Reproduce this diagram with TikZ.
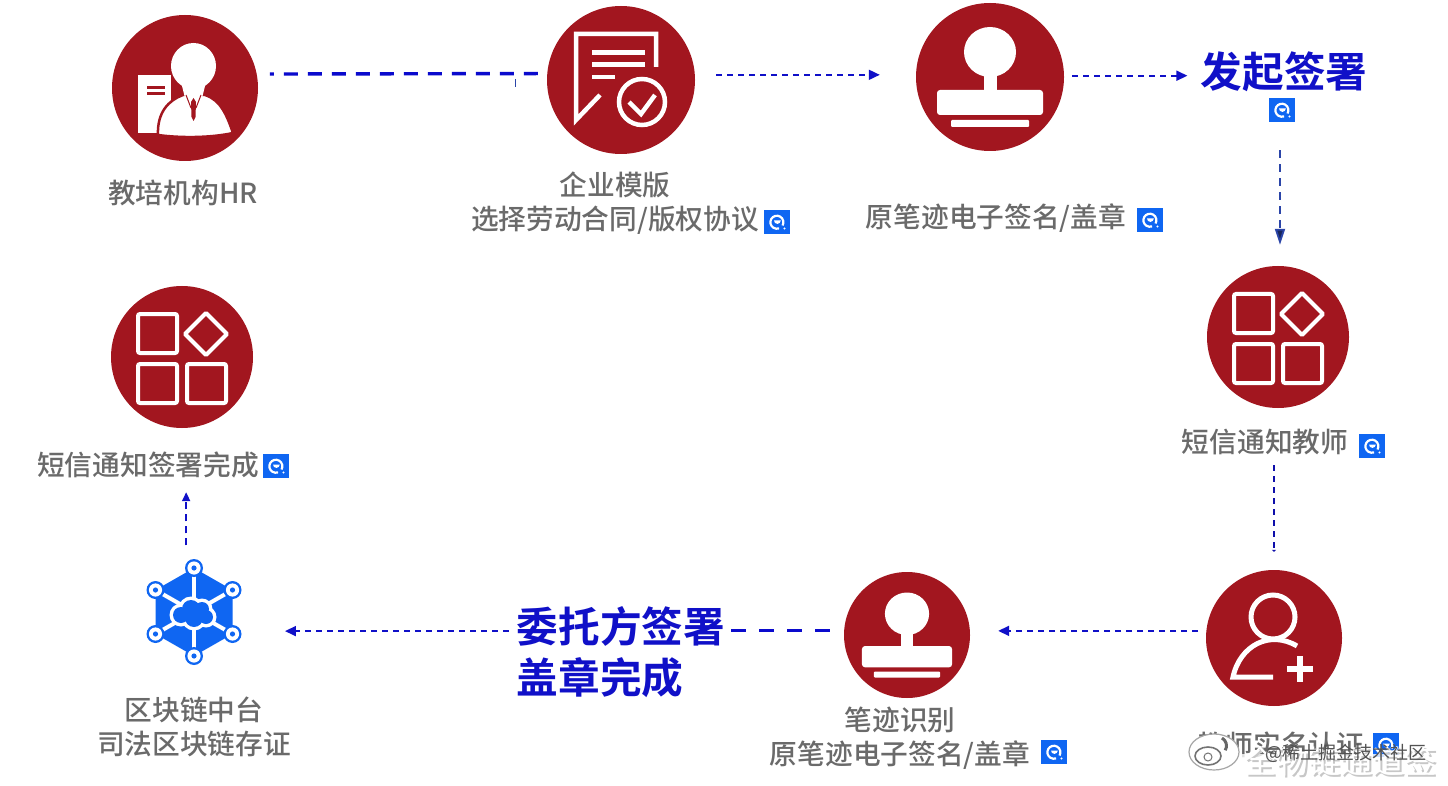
\documentclass[tikz,border=0pt]{standalone}
\usepackage{fontspec}
\setmainfont{Noto Sans CJK SC}
\newfontfamily\lblfont{Noto Sans CJK SC Medium}
\newfontfamily\ttlfont{Noto Sans CJK SC Bold}
\newfontfamily\wmfont{Noto Sans CJK SC}
\usetikzlibrary{arrows.meta,calc}
\definecolor{seal}{HTML}{A2161F}
\definecolor{lbl}{HTML}{6A6A6A}
\definecolor{ttl}{HTML}{1010C8}
\definecolor{azure}{HTML}{0F66F2}
\definecolor{navy}{HTML}{2B45A8}
\definecolor{thick}{HTML}{0A0ACD}
\tikzset{
 disc/.style={circle,fill=seal,inner sep=0pt,minimum size=#1},
 lab/.style={text=lbl,inner sep=0pt,font=\lblfont\fontsize{27.7}{33.5}\selectfont,align=center},
 title/.style={text=ttl,inner sep=0pt,font=\ttlfont\fontsize{41.7}{51}\selectfont,align=left},
 badge/.style={fill=azure,inner sep=0pt,minimum width=26pt,minimum height=24pt},
 thin link/.style={draw=ttl,line width=1.7pt,dash pattern=on 6pt off 5pt,-{Triangle[length=11pt,width=10pt,fill=ttl]}},
 heavy link/.style={draw=thick,line width=3.4pt},
 ink/.style={white,line width=#1},
 ink/.default=4pt,
}
\newcommand\stampicon[3]{\begin{scope}[shift={(#1,#2)},scale=#3]
 \fill[white] (0,-25) ellipse (26 and 25);
 \fill[white] (-6.5,-5) rectangle (6.5,15);
 \fill[white,rounded corners=3pt] (-53,13) rectangle (53,38);
 \fill[white,rounded corners=1pt] (-39,43) rectangle (39,50);
\end{scope}}
\newcommand\appsicon[2]{\begin{scope}[shift={(#1,#2)}]
 \draw[ink,rounded corners=2pt] (-44,-43) rectangle (-5,-4);
 \draw[ink,rounded corners=2pt] (-44,7) rectangle (-5,46);
 \draw[ink,rounded corners=2pt] (5,7) rectangle (44,46);
 \draw[ink,rounded corners=1pt] (24,-44) -- (45,-23) -- (24,-2) -- (3,-23) -- cycle;
\end{scope}}
\newcommand\badgeicon[3]{\node[badge] (#1) at (#2,#3) {};
 \draw[white,line width=2.2pt] ($(#2,#3)+(5.5,3.5)$) arc[start angle=30,end angle=-290,radius=6.5];
 \fill[white] ($(#2,#3)+(-3,-1.5)$) arc[start angle=180,end angle=0,radius=3.4] -- cycle;
 \fill[white] (#2+7.5,#3+6.5) circle (1.1);}
\begin{document}
\begin{tikzpicture}[x=1pt,y=-1pt]
\useasboundingbox (0,0) rectangle (1448,786);
\fill[white] (0,0) rectangle (1448,786);
% discs
\node[disc=146pt] (hr) at (185,88) {};
\node[disc=148pt] (tpl) at (621,80) {};
\node[disc=148pt] (stampA) at (990,77) {};
\node[disc=142pt] (appsR) at (1278,337) {};
\node[disc=136pt] (person) at (1274,638) {};
\node[disc=126pt] (stampB) at (907,635) {};
\node[disc=142pt] (appsL) at (182,357) {};
\node[circle,inner sep=0pt,minimum size=90pt] (chain) at (194,612) {};
% HR icon
\begin{scope}[shift={(185,88)}]
 \fill[white] (-47,-13) rectangle (-14,45);
 \fill[seal] (-38,-2) rectangle (-20,1.5);
 \fill[seal] (-38,4) rectangle (-20,7.5);
 \draw[seal,line width=2.5pt,fill=white] (-27,47) .. controls (-28,24) and (-16,12) .. (-2,7) -- (20,7) .. controls (36,12) and (42,28) .. (48,45) .. controls (25,50) and (-5,50) .. (-27,47) -- cycle;
 \fill[white] (8.5,-22) ellipse (22.5 and 23);
 \fill[white] (-4,-6) -- (21,-6) -- (17,10) -- (0,10) -- cycle;
 \fill[seal] (6,14) -- (8.5,10) -- (11,14) -- (10.5,29) -- (8.5,33) -- (6.5,29) -- cycle;
 \draw[seal,line width=1pt] (1,7) -- (6,20);
 \draw[seal,line width=1pt] (16,7) -- (11,20);
\end{scope}
% template icon
\draw[ink=4.5pt] (600,95) -- (576,120) -- (576,34) -- (656,34) -- (656,67);
\fill[white] (592,50) rectangle (645,55);
\fill[white] (592,62) rectangle (645,67);
\fill[white] (592,75) rectangle (615,79);
\draw[ink=4.5pt] (642,102) circle (23);
\draw[ink=4.5pt] (629,102) -- (641,114) -- (655,95);
% stamps and apps
\stampicon{990}{77}{1}
\stampicon{907}{635}{0.85}
\appsicon{1278}{337}
\appsicon{182}{357}
% person icon
\draw[ink=5pt] (1273,617) circle (22);
\draw[ink=5pt] (1297,646) .. controls (1270,630) and (1240,645) .. (1233,677) -- (1273,677);
\fill[white] (1297,656) rectangle (1303,682);
\fill[white] (1287,666) rectangle (1313,672);
% blockchain icon
\begin{scope}[shift={(194,612)}]
 \fill[azure] (0,-44) -- (38.5,-22) -- (38.5,22) -- (0,44) -- (-38.5,22) -- (-38.5,-22) -- cycle;
 \draw[ink] (0,-44) -- (0,44);
 \draw[ink] (-38.5,-22) -- (38.5,22);
 \draw[ink] (-38.5,22) -- (38.5,-22);
 \foreach \x/\y/\r in {-13/3/8,-3/-3/9,8/-3/7,12/5/7,0/6/9} {\fill[white] (\x,\y) circle (\r+3.5);}
 \foreach \x/\y/\r in {-13/3/8,-3/-3/9,8/-3/7,12/5/7,0/6/9} {\fill[azure] (\x,\y) circle (\r);}
 \foreach \p in {(0,-44),(38.5,-22),(38.5,22),(0,44),(-38.5,22),(-38.5,-22)} {
  \fill[azure] \p circle (9); \fill[white] \p circle (6.6); \fill[azure] \p circle (2.6);}
\end{scope}
% labels
\node[lab] (hrL) at (183,193) {教培机构HR};
\node[lab] (tplL) at (615,203) {企业模版\\选择劳动合同/版权协议};
\node[lab] (stampAL) at (996,218) {原笔迹电子签名/盖章};
\node[lab] (notiR) at (1265,442) {短信通知教师};
\node[lab] (notiL) at (148,465) {短信通知签署完成};
\node[lab] (chainL) at (194,727) {区块链中台\\司法区块链存证};
\node[lab] (stampBL) at (900,738) {笔迹识别\\原笔迹电子签名/盖章};
\node[lab] (personL) at (1281,745) {教师实名认证};
\node[title] (sign) at (1284,72) {发起签署};
\node[title] (deleg) at (621,652) {委托方签署\\盖章完成};
% badges
\badgeicon{bA}{777}{222}
\badgeicon{bB}{1150}{220}
\badgeicon{bC}{1282}{110}
\badgeicon{bD}{1372}{446}
\badgeicon{bE}{276}{466}
\badgeicon{bF}{1054}{752}
\badgeicon{bG}{1386}{745}
% connectors
\draw[heavy link,dash pattern=on 14pt off 10pt,dash phase=10pt,shorten <=13pt,shorten >=7pt] (hr.11) -- (tpl.175);
\coordinate (tick) at (515,79);
\draw[navy,line width=1pt] (tick) -- ++(0,8);
\draw[thin link,shorten <=21pt,shorten >=36pt] (tpl.4) -- (tpl.4 -| stampA.west);
\draw[thin link,shorten <=8pt,shorten >=13pt] (stampA.1) -- (stampA.1 -| sign.west);
\draw[draw=navy,line width=1.8pt,dash pattern=on 8pt off 6pt,-{Triangle[length=16pt,width=10pt,fill=navy!55!black]},shorten <=28pt,shorten >=21pt] ([xshift=-2pt]bC.south) -- ([xshift=-2pt]bC.south |- appsR.north);
\draw[draw=ttl!85!black,line width=1.4pt,dash pattern=on 6pt off 5pt,-{Triangle[length=2pt,width=4pt]},shorten <=57pt,shorten >=18pt] (person.north |- appsR.south) -- (person.north);
\draw[thin link,shorten <=8pt,shorten >=28pt] (person.174) -- (person.174 -| stampB.east);
\draw[heavy link,dash pattern=on 15pt off 13pt,shorten <=14pt,shorten >=3pt] (stampB.176) -- (stampB.176 -| deleg.east);
\draw[thin link,shorten <=8pt,shorten >=50pt] (chain.-25 -| deleg.west) -- (chain.-25);
\draw[thin link,dash pattern=on 7pt off 5pt,-{Triangle[length=9pt,width=8pt,fill=ttl]},shorten <=22pt,shorten >=64pt] (chain.100) -- (chain.100 |- appsL.south);
% watermark
\fill[white,opacity=.8] (1190,754) rectangle (1448,786);
\node[inner sep=0pt,text=black!22,font=\wmfont\fontsize{32}{32}\selectfont] (wmS) at (1342,763) {全物链通道签};
\node[inner sep=0pt,text=white,font=\wmfont\fontsize{32}{32}\selectfont] (wm) at (1340,761) {全物链通道签};
\node[inner sep=0pt,text=black!68,font=\wmfont\fontsize{18}{18}\selectfont] (wmT) at (1346,753) {@稀土掘金技术社区};
\draw[black!35,fill=white,line width=1.2pt] (1214,752) ellipse (25 and 18);
\draw[black!55,line width=1.6pt] (1208,756) ellipse (13 and 9);
\draw[black!55,line width=1pt] (1208,757) circle (4);
\draw[black!60,line width=3pt] (1222,738) arc[start angle=-60,end angle=30,radius=9];
\end{tikzpicture}
\end{document}
